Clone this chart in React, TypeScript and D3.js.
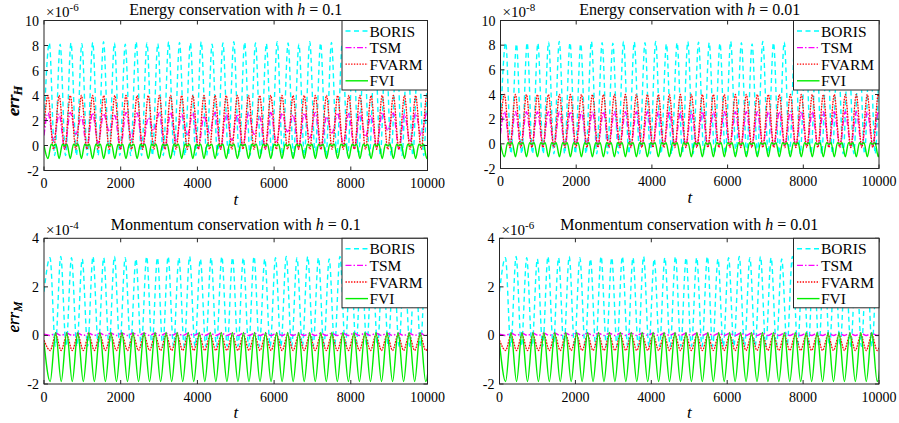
import React from 'react';
import * as d3 from 'd3';

const W = 899;
const H = 423;
const T_MAX = 10000;

// ---------- Energy rows: cycle times (FVARM maxima / FVI minima) ----------
const energyCycleT = [104, 395, 685, 976, 1266, 1557, 1847, 2138, 2428, 2719, 3009, 3300, 3590, 3881, 4171, 4462, 4752, 5043, 5333, 5624, 5914, 6205, 6495, 6786, 7076, 7367, 7657, 7948, 8238, 8529, 8819, 9110, 9400, 9691, 9981];

// BORIS energy error: times of maxima and their heights
const borisEnergyT = [138, 421, 704, 987, 1270, 1553, 1836, 2119, 2402, 2685, 2968, 3251, 3534, 3817, 4100, 4383, 4666, 4949, 5232, 5515, 5798, 6081, 6364, 6647, 6930, 7213, 7496, 7779, 8062, 8345, 8628, 8911, 9194, 9477, 9760, 10043];
const borisEnergyPeak = [8.2, 8.1, 8.2, 8.15, 8.25, 8.3, 8.2, 8.1, 8.3, 8.2, 8.15, 8.3, 8.25, 8.2, 8.3, 8.1, 8.2, 8.3, 8.25, 8.2, 8.15, 8.3, 8.2, 8.1, 8.3, 8.2, 8.25, 8.3, 8.2, 8.1, 8.2, 8.3, 8.2, 8.25, 8.2, 8.2];
const borisEnergyTrough = -0.8;

// TSM energy error with h = 0.1 (irregular maxima / minima per cycle)
const tsmEnergyPeakCoarse = [2.6, 2.5, 2.65, 2.3, 2.6, 2.55, 2.4, 2.65, 2.6, 2.2, 2.6, 2.65, 2.5, 2.6, 2.35, 2.65, 2.6, 2.5, 2.6, 2.3, 2.65, 2.6, 2.45, 2.6, 2.65, 2.3, 2.6, 2.55, 2.6, 2.4, 2.65, 2.6, 2.5, 2.6, 2.6];
const tsmEnergyTroughCoarse = [0.4, -0.3, 0.9, -0.2, 0.2, 1.1, -0.3, 0.5, -0.1, 1.2, -0.3, 0.3, 0.8, -0.2, 1.0, -0.3, 0.4, -0.1, 0.9, -0.3, 0.2, 1.1, -0.2, 0.6, -0.3, 1.0, 0.1, -0.3, 0.7, -0.2, 1.2, -0.3, 0.3, 0.8, -0.2];
// TSM energy error with h = 0.01 (regular)
const tsmEnergyPeakFine = 2.6;
const tsmEnergyTroughFine = -0.2;

// FVARM energy error: one cycle (time offset, value)
const fvarmEnergyDt = [0, 145];
const fvarmEnergyV = [4.0, -0.3];
// FVI energy error: one cycle (narrow dip, flat double-humped top)
const fviEnergyDt = [0, 85, 145, 205];
const fviEnergyV = [-1.05, 0.1, -0.03, 0.1];

// ---------- Momentum rows ----------
const momentumCycleT = [161, 449, 737, 1025, 1313, 1601, 1889, 2177, 2465, 2753, 3041, 3329, 3617, 3905, 4193, 4481, 4769, 5057, 5345, 5633, 5921, 6209, 6497, 6785, 7073, 7361, 7649, 7937, 8225, 8513, 8801, 9089, 9377, 9665, 9953];
const borisMomentumT = [157, 437, 717, 997, 1277, 1557, 1837, 2117, 2397, 2677, 2957, 3237, 3517, 3797, 4077, 4357, 4637, 4917, 5197, 5477, 5757, 6037, 6317, 6597, 6877, 7157, 7437, 7717, 7997, 8277, 8557, 8837, 9117, 9397, 9677, 9957];
const borisMomentumPeak = [3.2, 3.25, 3.2, 3.15, 3.25, 3.2, 3.25, 3.2, 3.15, 3.25, 3.2, 3.25, 3.2, 3.25, 3.15, 3.2, 3.25, 3.2, 3.2, 3.25, 3.15, 3.2, 3.25, 3.2, 3.25, 3.2, 3.15, 3.25, 3.2, 3.2, 3.25, 3.2, 3.15, 3.2, 3.25, 3.2];
const borisMomentumTrough = -0.45;
const fviMomentumDt = [0, 144];
const fviMomentumV = [-1.9, 0.12];
const fvarmMomentumDt = [0, 144];
const fvarmMomentumV = [-0.62, 0.02];
const tsmMomentumDt = [0, 144];
const tsmMomentumV = [0.0, 0.09];

// starting values at t = 0: [BORIS, TSM, FVARM, FVI]
const energyStart = [1.5, 0.8, 1.5, 0.0];
const momentumStart = [1.8, 0.05, -0.2, -0.3];

const methodNames = ['BORIS', 'TSM', 'FVARM', 'FVI'];
const xTicks = [0, 2000, 4000, 6000, 8000, 10000];
const energyTicks = [-2, 0, 2, 4, 6, 8, 10];
const momentumTicks = [-2, 0, 2, 4];

type Pt = [number, number];

function build(start: number, cycles: number[], dts: number[], val: (i: number, j: number) => number): Pt[] {
  const pts: Pt[] = [[0, start]];
  cycles.forEach((t0, i) => dts.forEach((dt, j) => pts.push([t0 + dt, val(i, j)])));
  return pts;
}

const STYLES = [
  { color: '#00ffff', dash: '5,3.5', width: 1.4 },
  { color: '#ff00ff', dash: '6,2,1.5,2', width: 1.4 },
  { color: '#ff0000', dash: '1.4,1.4', width: 1.3 },
  { color: '#00ee00', dash: undefined as string | undefined, width: 1.4 },
];

function energySeries(coarse: boolean): Pt[][] {
  const boris = build(energyStart[0], borisEnergyT, [0, 141], (i, j) => (j === 0 ? borisEnergyPeak[i] : borisEnergyTrough));
  const tsm = build(energyStart[1], energyCycleT, [0, 145], (i, j) =>
    coarse ? (j === 0 ? tsmEnergyPeakCoarse[i] : tsmEnergyTroughCoarse[i]) : j === 0 ? tsmEnergyPeakFine : tsmEnergyTroughFine
  );
  const fvarm = build(energyStart[2], energyCycleT, fvarmEnergyDt, (_i, j) => fvarmEnergyV[j]);
  const fvi = build(energyStart[3], energyCycleT, fviEnergyDt, (_i, j) => fviEnergyV[j]);
  return [boris, tsm, fvarm, fvi];
}

function momentumSeries(): Pt[][] {
  const boris = build(momentumStart[0], borisMomentumT, [0, 140], (i, j) => (j === 0 ? borisMomentumPeak[i] : borisMomentumTrough));
  const tsm = build(momentumStart[1], momentumCycleT, tsmMomentumDt, (_i, j) => tsmMomentumV[j]);
  const fvarm = build(momentumStart[2], momentumCycleT, fvarmMomentumDt, (_i, j) => fvarmMomentumV[j]);
  const fvi = build(momentumStart[3], momentumCycleT, fviMomentumDt, (_i, j) => fviMomentumV[j]);
  return [boris, tsm, fvarm, fvi];
}

const FONT = "'Liberation Serif', 'Times New Roman', serif";
const AXIS = '#262626';

type PanelProps = {
  id: string;
  L: number; R: number; T: number; B: number;
  yDomain: [number, number];
  yTicks: number[];
  expo: string;
  title: string;
  h: string;
  sub: string;
  data: Pt[][];
  titleY: number;
  expoY: number;
};

function Panel(p: PanelProps) {
  const x = d3.scaleLinear().domain([0, T_MAX]).range([p.L, p.R]);
  const y = d3.scaleLinear().domain(p.yDomain).range([p.B, p.T]);
  const line = d3
    .line<Pt>()
    .x((d) => x(d[0]))
    .y((d) => y(d[1]))
    .curve(d3.curveMonotoneX);
  const tick = 4;
  const cx = (p.L + p.R) / 2;
  const cy = (p.T + p.B) / 2;
  const legW = 85.5;
  const legH = 69.5;
  const legL = p.R - legW;
  return (
    <g fontFamily={FONT}>
      <defs>
        <clipPath id={p.id}>
          <rect x={p.L} y={p.T} width={p.R - p.L} height={p.B - p.T} />
        </clipPath>
      </defs>
      <rect x={p.L} y={p.T} width={p.R - p.L} height={p.B - p.T} fill="#fff" />
      <g clipPath={`url(#${p.id})`}>
        {p.data.map((pts, k) => (
          <g key={k}>
            {k === 2 && <path d={line(pts) || ''} fill="none" stroke="#ff8a8a" strokeWidth={1.1} opacity={0.6} />}
            <path
              d={line(pts) || ''}
              fill="none"
              stroke={STYLES[k].color}
              strokeWidth={STYLES[k].width}
              strokeDasharray={STYLES[k].dash}
            />
          </g>
        ))}
      </g>
      {/* ticks on all four sides */}
      {xTicks.map((t) => (
        <g key={'x' + t}>
          <line x1={x(t)} x2={x(t)} y1={p.B} y2={p.B - tick} stroke={AXIS} />
          <line x1={x(t)} x2={x(t)} y1={p.T} y2={p.T + tick} stroke={AXIS} />
          <text x={x(t)} y={p.B + 17.5} textAnchor="middle" fontSize={14} fill="#000">
            {t}
          </text>
        </g>
      ))}
      {p.yTicks.map((v) => (
        <g key={'y' + v}>
          <line x1={p.L} x2={p.L + tick} y1={y(v)} y2={y(v)} stroke={AXIS} />
          <line x1={p.R} x2={p.R - tick} y1={y(v)} y2={y(v)} stroke={AXIS} />
          <text x={p.L - 5} y={y(v) + 5} textAnchor="end" fontSize={14} fill="#000">
            {String(v)}
          </text>
        </g>
      ))}
      <rect x={p.L} y={p.T} width={p.R - p.L} height={p.B - p.T} fill="none" stroke={AXIS} strokeWidth={1} />
      {/* exponent */}
      <text x={p.L + 2} y={p.expoY} fontSize={15} fill="#000">
        ×10
        <tspan dy={-6} fontSize={11}>
          {p.expo}
        </tspan>
      </text>
      {/* title */}
      <text x={cx} y={p.titleY} textAnchor="middle" fontSize={16} fill="#000">
        {p.title}
        <tspan fontStyle="italic">h</tspan>
        {' = ' + p.h}
      </text>
      {/* axis labels */}
      <text x={cx} y={p.B + 34} textAnchor="middle" fontSize={17} fontStyle="italic" fill="#000">
        t
      </text>
      <text transform={`translate(${19},${cy + 6}) rotate(-90)`} textAnchor="middle" fontSize={17} fontStyle="italic" fill="#000">
        err
        <tspan fontSize={12} dy={3}>
          {p.sub}
        </tspan>
      </text>
      {/* legend */}
      <rect x={legL} y={p.T} width={legW} height={legH} fill="#fff" stroke={AXIS} strokeWidth={1} />
      {methodNames.map((name, k) => {
        const ly = p.T + 10.5 + k * 16.6;
        return (
          <g key={name}>
            <line
              x1={legL + 3.5}
              x2={legL + 26}
              y1={ly}
              y2={ly}
              stroke={STYLES[k].color}
              strokeWidth={STYLES[k].width}
              strokeDasharray={STYLES[k].dash}
            />
            <text x={legL + 27.5} y={ly + 5.5} fontSize={15.5} fill="#000">
              {name}
            </text>
          </g>
        );
      })}
    </g>
  );
}

export default function App() {
  const eCoarse = energySeries(true);
  const eFine = energySeries(false);
  const mom = momentumSeries();
  return (
    <svg width={W} height={H} style={{ position: 'absolute', left: 0, top: 0, background: '#fff' }}>
      <rect width={W} height={H} fill="#fff" />
      <Panel id="c1" L={44} R={427.5} T={20.5} B={170.5} yDomain={[-2, 10]} yTicks={energyTicks} expo="-6"
        title="Energy conservation with " h="0.1" sub="H" data={eCoarse} titleY={14.5} expoY={17} />
      <Panel id="c2" L={500.5} R={879} T={20.5} B={168.5} yDomain={[-2, 10]} yTicks={energyTicks} expo="-8"
        title="Energy conservation with " h="0.01" sub="H" data={eFine} titleY={14.5} expoY={17} />
      <Panel id="c3" L={44} R={427.5} T={238.3} B={384} yDomain={[-2, 4]} yTicks={momentumTicks} expo="-4"
        title="Monmentum conservation with " h="0.1" sub="M" data={mom} titleY={229.5} expoY={235} />
      <Panel id="c4" L={499.5} R={879} T={238.3} B={384} yDomain={[-2, 4]} yTicks={momentumTicks} expo="-6"
        title="Monmentum conservation with " h="0.01" sub="M" data={mom} titleY={229.5} expoY={235} />
    </svg>
  );
}
